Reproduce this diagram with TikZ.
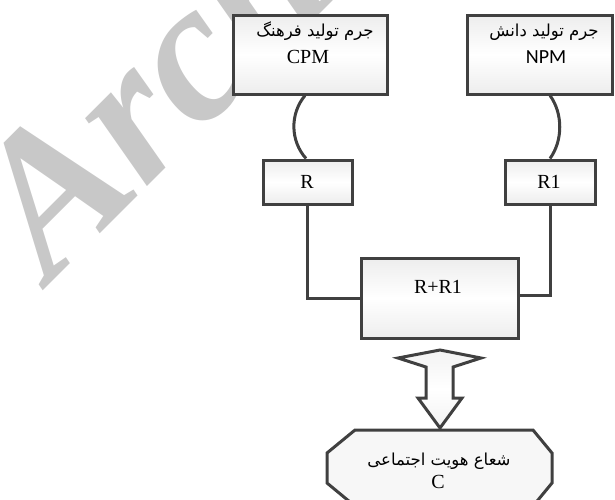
\documentclass[tikz,border=0pt]{standalone}
\usepackage{fontspec}
\setmainfont{Liberation Serif}
\newfontfamily\fafont[Script=Arabic]{DejaVu Sans}
\newfontfamily\calfont{Carlito}
\TeXXeTstate=1
\definecolor{edgegray}{RGB}{64,64,64}
\definecolor{wmgray}{RGB}{200,200,200}
\tikzset{
  boxshape/.style={draw=edgegray, line width=3pt, top color=black!7, bottom color=black!7, middle color=white, inner sep=0pt},
  conn/.style={draw=edgegray, line width=3pt},
  fatext/.style={inner sep=0pt, font=\fafont\fontsize{16.5}{19}\selectfont},
  latext/.style={inner sep=0pt, font=\fontsize{20}{24}\selectfont},
  caltext/.style={inner sep=0pt, font=\calfont\fontsize{20}{24}\selectfont},
  wmark/.style={inner sep=0pt, text=wmgray, font=\bfseries\itshape\fontsize{200}{200}\selectfont}
}
\begin{document}
\begin{tikzpicture}[x=1pt,y=-1pt]
\useasboundingbox (0,0) rectangle (615,499);
% watermark
\node[wmark, rotate=45, anchor=base west] (wmk) at (50,284) {Archive};
% boxes
\node[boxshape, minimum width=154pt, minimum height=79pt] (cpm) at (310,54.5) {};
\node[boxshape, minimum width=145pt, minimum height=79pt] (npm) at (539.5,54.5) {};
\node[boxshape, minimum width=89pt, minimum height=44pt] (r) at (307.5,182) {};
\node[boxshape, minimum width=90pt, minimum height=44pt] (rone) at (550,182) {};
\node[boxshape, minimum width=157pt, minimum height=80pt] (rr) at (439.5,298) {};
% texts
\node[fatext, anchor=base] (cpmfa) at (315,36) {\beginR جرم تولید فرهنگ\endR};
\node[latext, anchor=base] (cpmla) at (308,63) {CPM};
\node[fatext, anchor=base] (npmfa) at (544,36) {\beginR جرم تولید دانش\endR};
\node[caltext, anchor=base] (npmla) at (546,63) {NPM};
\node[latext, anchor=base] (rtxt) at (307,188) {R};
\node[latext, anchor=base] (ronetxt) at (549,188) {R1};
\node[latext, anchor=base] (rrtxt) at (438,293) {R+R1};
% curved connectors
\draw[conn] ([xshift=-5pt]cpm.south) .. controls +(-15,18) and +(-16,-18) .. ([xshift=-1.5pt]r.north);
\draw[conn] ([xshift=10.5pt]npm.south) .. controls +(13,18) and +(13,-18) .. (rone.north);
% orthogonal connectors
\draw[conn] (r.south) |- (rr.west);
\draw[conn] (rone.south) |- ([yshift=3pt]rr.east);
% block arrow
\draw[conn, top color=black!5, bottom color=black!5, middle color=white, line join=miter]
  (440,350) -- (481,358) -- (453,367) -- (453,398) -- (462,398) -- (440,428)
  -- (418,398) -- (426,398) -- (426,367) -- (398,358) -- cycle;
% octagon, cut by the lower edge of the picture
\fill[black!3] (355,430) -- (533,430) -- (552,453) -- (552,483) -- (505,540) -- (396,540)
  -- (327,483) -- (327,453) -- cycle;
\draw[conn, line join=miter] (505,540) -- (552,483) -- (552,453) -- (533,430) -- (355,430)
  -- (327,453) -- (327,483) -- (396,540);
\node[fatext, anchor=base] (shfa) at (439,465) {\beginR شعاع هویت اجتماعی\endR};
\node[latext, anchor=base] (ctxt) at (438,488) {C};
\end{tikzpicture}
\end{document}
